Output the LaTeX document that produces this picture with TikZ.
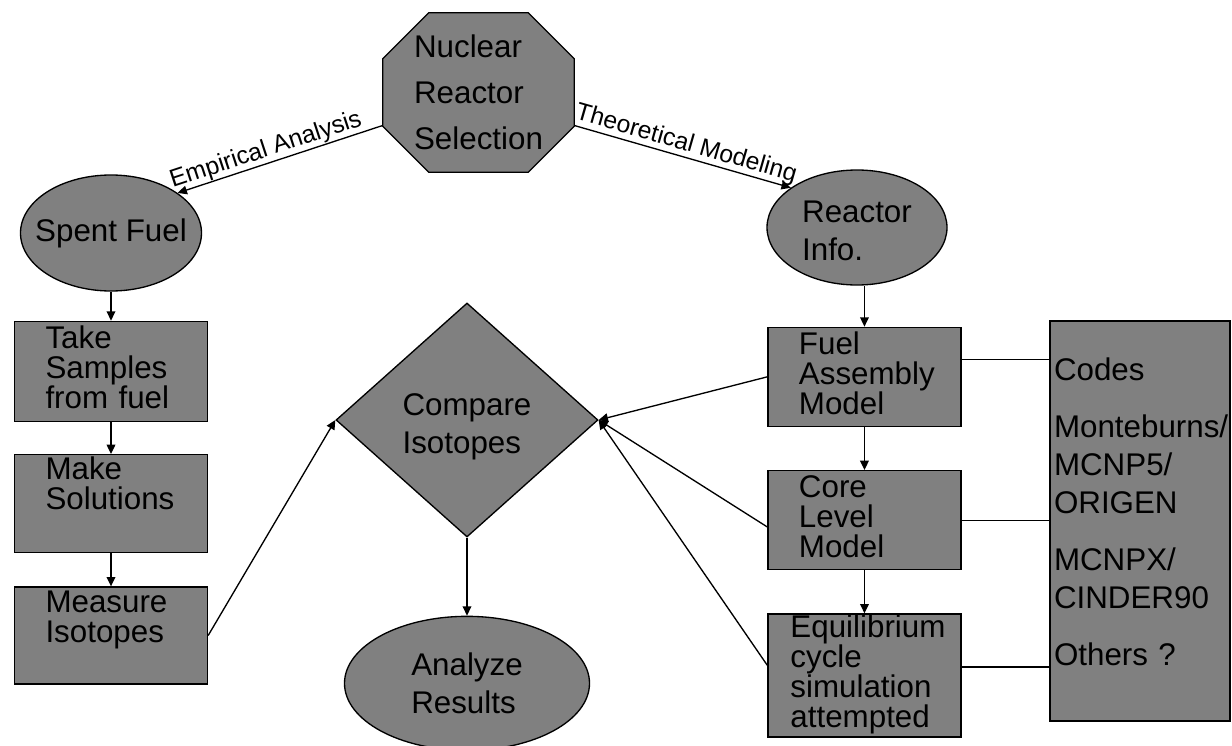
\documentclass[tikz,border=0pt]{standalone}
\usepackage{fontspec}
\setmainfont{Liberation Sans}
\usepackage{tikz}
\usetikzlibrary{shapes.geometric, arrows.meta, positioning, calc, backgrounds}
\tikzstyle{block} = [rectangle, draw=black, fill=gray, line width=1pt, minimum width=144.75pt, text width=98.25pt, inner xsep=23.25pt, inner ysep=0pt, align=left, font=\fontsize{23.5}{22.5}\selectfont]
\tikzstyle{terminal} = [ellipse, draw=black, fill=gray, line width=1pt, inner sep=0pt, align=left, font=\fontsize{23.5}{28.5}\selectfont]
\tikzstyle{decision} = [diamond, draw=black, fill=gray, line width=1pt, inner sep=0pt, align=left, font=\fontsize{23.5}{28.5}\selectfont]
\tikzstyle{tag} = [sloped, above, inner sep=0.5pt, font=\fontsize{18.5}{20}\selectfont]
\tikzstyle{arrow} = [line width=1pt, -{Triangle[length=7pt, width=6.5pt]}]
\tikzstyle{link} = [line width=1pt]

\begin{document}
\begin{tikzpicture}[x=0.75pt, y=-0.75pt]
    \useasboundingbox (0,0) rectangle (1232,746);

    % Start
    \node[minimum width=143.25pt, minimum height=119.25pt, inner sep=0pt, align=left, font=\fontsize{23.5}{34.5}\selectfont] (sel) at (478.5,92.5) {Nuclear\\Reactor\\Selection};

    % Empirical side
    \node[terminal, minimum width=135.75pt, minimum height=87pt] (spent) at (111,233) {\makebox[0pt]{Spent Fuel}};
    \node[block, minimum height=75pt, text height=20.25pt, text depth=54.75pt, below=21.75pt of spent] (take) {Take\\Samples\\from fuel};
    \node[block, minimum height=73.5pt, text height=18.75pt, text depth=54.75pt, below=24pt of take] (make) {Make\\Solutions};
    \node[block, minimum height=72.75pt, text height=18.75pt, text depth=54pt, below=24.75pt of make] (measure) {Measure\\Isotopes};

    % Middle
    \node[decision, minimum width=196.5pt, minimum height=175.5pt, text height=49.5pt, text depth=0pt] (compare) at (467,420) {Compare\\Isotopes};
    \node[terminal, minimum width=183.75pt, minimum height=100.5pt, below=58.5pt of compare] (analyze) {Analyze\\Results};

    % Theoretical side
    \node[terminal, minimum width=135pt, minimum height=86.25pt, text height=48.75pt, text depth=0pt] (reactor) at (857,227.5) {Reactor\\Info.};
    \node[block, minimum height=74.25pt, text height=20.25pt, text depth=54pt, below=30.75pt of reactor, xshift=5.6pt] (fuel) {Fuel\\Assembly\\Model};
    \node[block, minimum height=74.25pt, text height=20.25pt, text depth=54pt, below=32.25pt of fuel] (core) {Core\\Level\\Model};
    \node[block, minimum height=92.25pt, text height=17.25pt, text depth=75pt, text width=111pt, inner xsep=16.875pt, below=32.25pt of core] (equil) {Equilibrium\\cycle\\simulation\\attempted};

    % Codes
    \node[block, minimum width=135pt, minimum height=300pt, text width=129pt, inner xsep=3pt, text height=44.25pt, text depth=255.75pt, font=\fontsize{23.5}{28.5}\selectfont] (codes) at (1140,521) {Codes\\[14.25pt]Monteburns/\\MCNP5/\\ORIGEN\\[14.25pt]MCNPX/\\CINDER90\\[14.25pt]Others ?};

    % Octagon
    \begin{scope}[on background layer]
        \fill[white] (0,0) rectangle (1232,746);
        \draw[line width=1pt, fill=gray] ([xshift=34.5pt]sel.north west) -- ([xshift=-34.5pt]sel.north east) -- ([yshift=-34.5pt]sel.north east) -- ([yshift=34.5pt]sel.south east) -- ([xshift=-34.5pt]sel.south east) -- ([xshift=34.5pt]sel.south west) -- ([yshift=34.5pt]sel.south west) -- ([yshift=-34.5pt]sel.north west) -- cycle;
    \end{scope}

    % Arrows
    \draw[arrow] (sel.199) -- node[tag, pos=0.55] {Empirical Analysis} (spent.31.5);
    \draw[arrow] (sel.341) -- node[tag] {Theoretical Modeling} (reactor.149.5);
    \draw[arrow] (spent.south) -- (take.north);
    \draw[arrow] (take) -- (make);
    \draw[arrow] (make) -- (measure);
    \draw[arrow] (measure.east) -- (compare.west);
    \draw[arrow] (compare) -- (analyze);
    \draw[arrow] (reactor.south -| fuel.north) -- (fuel.north);
    \draw[arrow] (fuel) -- (core);
    \draw[arrow] (core) -- (equil);
    \draw[arrow] (fuel.west) -- (compare.east);
    \draw[arrow] (core.184) -- (compare.east);
    \draw[arrow] (equil.174) -- (compare.east);
    \draw[link] (fuel.10.6) -- (fuel.10.6 -| codes.west);
    \draw[link] (core.east) -- (core.east -| codes.west);
    \draw[link] (equil.5.6) -- (equil.5.6 -| codes.west);
\end{tikzpicture}
\end{document}
